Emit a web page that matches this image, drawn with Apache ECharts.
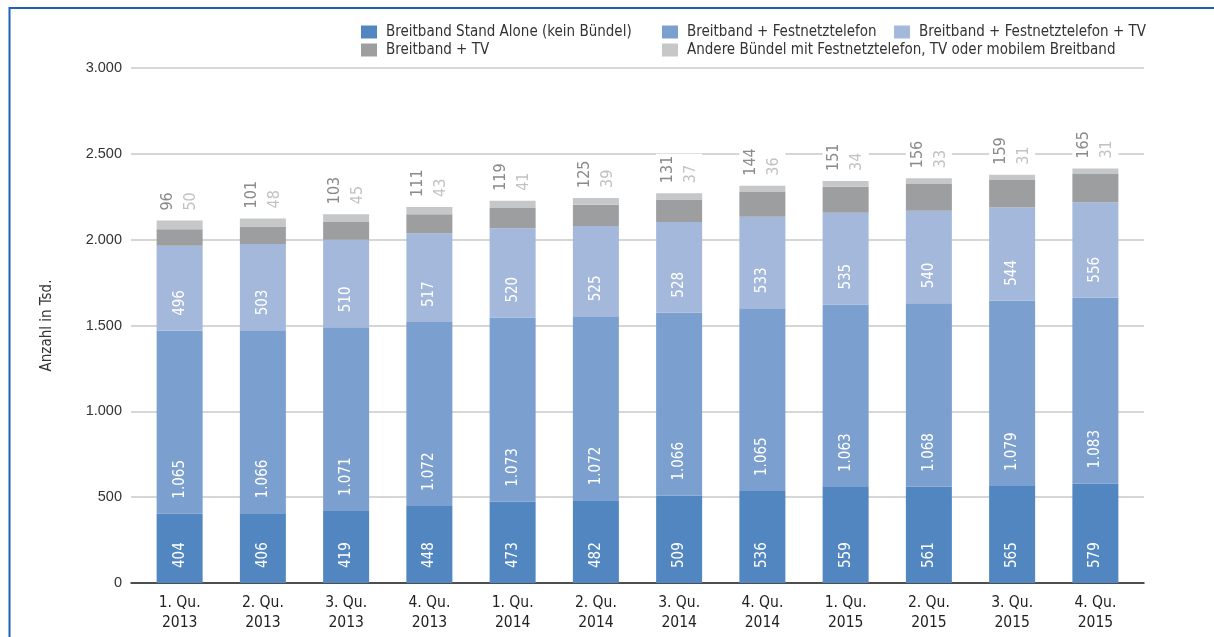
<!DOCTYPE html>
<html>
<head>
<meta charset="utf-8">
<script src="https://cdn.jsdelivr.net/npm/echarts@6/dist/echarts.min.js"></script>
<style>
html,body{margin:0;padding:0;background:#fff;}
#chart{width:1214px;height:637px;}
</style>
</head>
<body>
<div id="chart"></div>
<script>
const categories = ['1. Qu.\n2013','2. Qu.\n2013','3. Qu.\n2013','4. Qu.\n2013','1. Qu.\n2014','2. Qu.\n2014','3. Qu.\n2014','4. Qu.\n2014','1. Qu.\n2015','2. Qu.\n2015','3. Qu.\n2015','4. Qu.\n2015'];
const seriesNames = ['Breitband Stand Alone (kein Bündel)','Breitband + Festnetztelefon','Breitband + Festnetztelefon + TV','Breitband + TV','Andere Bündel mit Festnetztelefon, TV oder mobilem Breitband'];
const standAlone = [404,406,419,448,473,482,509,536,559,561,565,579];
const festnetz = [1065,1066,1071,1072,1073,1072,1066,1065,1063,1068,1079,1083];
const festnetzTV = [496,503,510,517,520,525,528,533,535,540,544,556];
const breitbandTV = [96,101,103,111,119,125,131,144,151,156,159,165];
const andere = [50,48,45,43,41,39,37,36,34,33,31,31];
const yTicks = [0,500,1000,1500,2000,2500,3000];

const NARROW = '"Liberation Sans Narrow","DejaVu Sans Condensed",sans-serif';
const colors = ['#5186c1','#7b9fce','#a3b8db','#9d9e9f','#c6c7c8'];

function fmt(v){ return String(v).replace(/\B(?=(\d{3})+(?!\d))/g,'.'); }

const inLabel = {
  show:true, position:'insideBottom', rotate:90, align:'left', verticalAlign:'middle',
  distance:15, color:'#fff', fontFamily:NARROW, fontSize:15,
  formatter:p=>fmt(p.value)
};

const chart = echarts.init(document.getElementById('chart'));
const legendPos = [[361,23],[662,23],[894,23],[361,41],[662,41]];
const option = {
  animation:false,
  color:colors,
  graphic:[{type:'rect',shape:{x:9.5,y:8,width:1300,height:700},style:{fill:null,stroke:'#1b63b8',lineWidth:2},silent:true}],
  legend: seriesNames.map((n,i)=>({
    data:[n], left:legendPos[i][0], top:legendPos[i][1], padding:0,
    itemWidth:16, itemHeight:13, icon:'rect', selectedMode:false,
    textStyle:{fontFamily:NARROW, fontSize:15, color:'#333', lineHeight:18, padding:[0,0,0,4]}
  })),
  grid:[
    {left:131, right:70, top:68, bottom:54},
    {left:138, right:77, top:68, bottom:54}
  ],
  xAxis:[
    {gridIndex:0, type:'value', min:0, max:1, axisLabel:{show:false}, splitLine:{show:false}, axisTick:{show:false},
     axisLine:{show:true, lineStyle:{color:'#222', width:1.5}}},
    {gridIndex:1, type:'category', data:categories, axisLine:{show:false}, axisTick:{show:false},
     axisLabel:{fontFamily:NARROW, fontSize:15.5, color:'#222', lineHeight:20, margin:10}}
  ],
  yAxis:[
    {gridIndex:0, type:'value', min:yTicks[0], max:yTicks[yTicks.length-1], interval:500,
     name:'Anzahl in Tsd.', nameLocation:'middle', nameGap:76,
     nameTextStyle:{fontFamily:NARROW, fontSize:15, color:'#333'},
     axisLine:{show:false}, axisTick:{show:false},
     axisLabel:{fontFamily:'"Liberation Sans",Arial,sans-serif', fontSize:14.5, color:'#333', margin:9, formatter:v=>fmt(v)},
     splitLine:{show:true, lineStyle:{color:'#c8c8c8', width:1.5}}},
    {gridIndex:1, type:'value', min:yTicks[0], max:yTicks[yTicks.length-1], interval:500, show:false, splitLine:{show:false}}
  ],
  series:[
    {name:seriesNames[0], type:'bar', stack:'s', xAxisIndex:1, yAxisIndex:1, barWidth:46, data:standAlone, label:inLabel},
    {name:seriesNames[1], type:'bar', stack:'s', xAxisIndex:1, yAxisIndex:1, barWidth:46, data:festnetz, label:inLabel},
    {name:seriesNames[2], type:'bar', stack:'s', xAxisIndex:1, yAxisIndex:1, barWidth:46, data:festnetzTV, label:inLabel},
    {name:seriesNames[3], type:'bar', stack:'s', xAxisIndex:1, yAxisIndex:1, barWidth:46, data:breitbandTV},
    {name:seriesNames[4], type:'bar', stack:'s', xAxisIndex:1, yAxisIndex:1, barWidth:46, data:andere,
     label:{show:true, position:'top', rotate:90, align:'left', verticalAlign:'middle', distance:8,
       backgroundColor:'#fff', padding:[0,2,0,2],
       formatter:p=>'{a|'+breitbandTV[p.dataIndex]+'}\n{b|'+andere[p.dataIndex]+'}',
       rich:{a:{color:'#8a8a8a', fontFamily:NARROW, fontSize:16, lineHeight:23},
             b:{color:'#c2c2c2', fontFamily:NARROW, fontSize:16, lineHeight:23}}}}
  ]
};
chart.setOption(option);
</script>
</body>
</html>
